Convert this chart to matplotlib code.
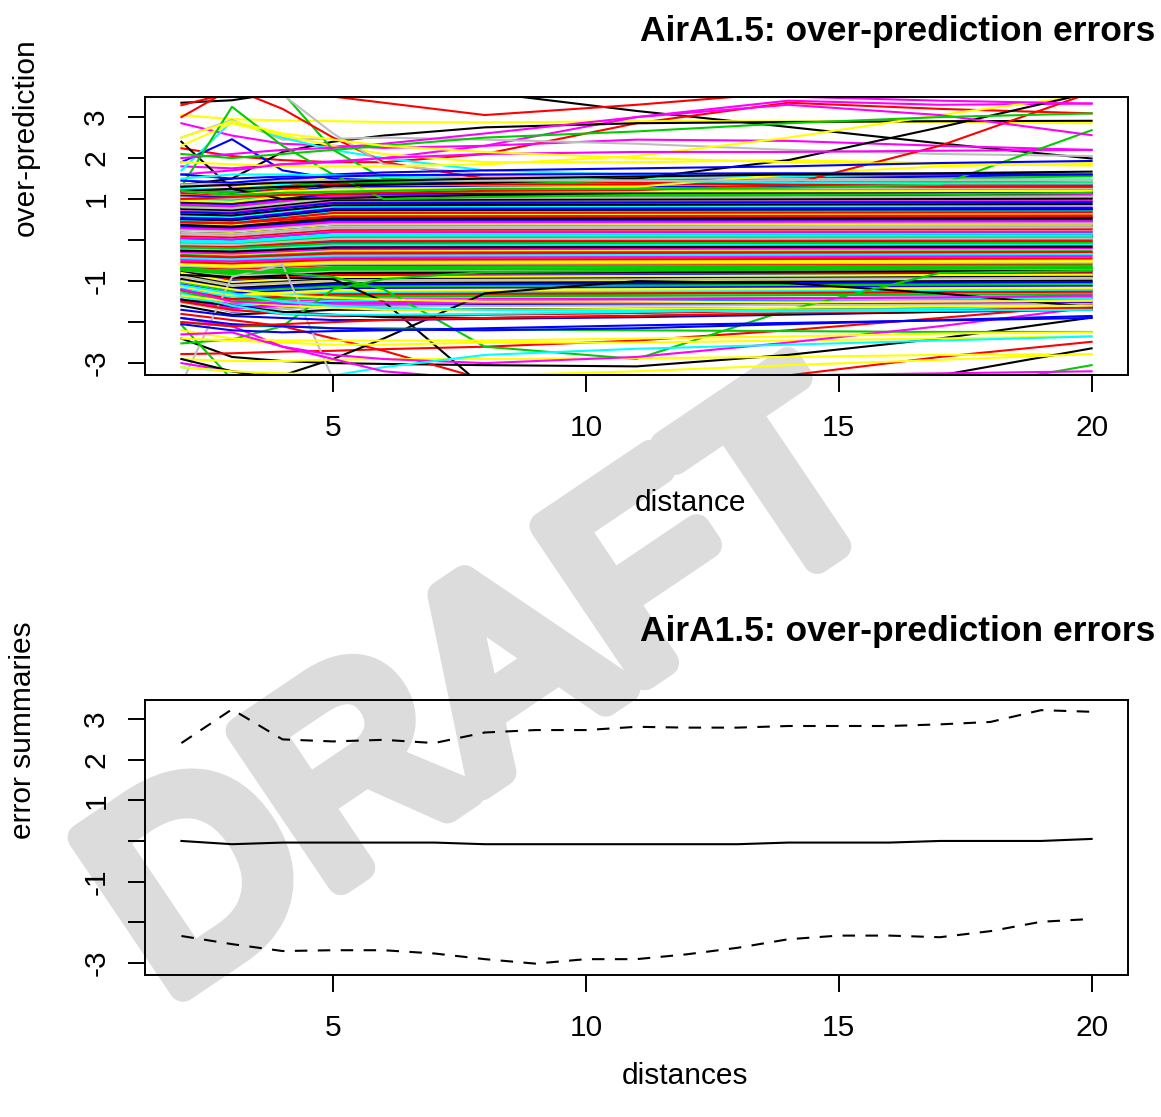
import matplotlib
matplotlib.use('Agg')
import matplotlib.pyplot as plt
import matplotlib.patheffects as pe

plt.rcParams['font.family'] = ['Liberation Sans', 'DejaVu Sans']

# ---------------- data ----------------
title = "AirA1.5: over-prediction errors"
distances = list(range(2, 21))

# summaries (bottom panel), one value per distance 2..20
summary_median = [0.00, -0.08, -0.04, -0.04, -0.04, -0.04, -0.08, -0.08, -0.08, -0.08,
                  -0.08, -0.08, -0.04, -0.04, -0.04, 0.00, 0.00, 0.00, 0.05]
summary_upper = [2.41, 3.24, 2.50, 2.45, 2.49, 2.41, 2.67, 2.73, 2.73, 2.81,
                 2.79, 2.79, 2.83, 2.83, 2.83, 2.87, 2.93, 3.22, 3.18]
summary_lower = [-2.34, -2.54, -2.71, -2.69, -2.69, -2.77, -2.91, -3.02, -2.91, -2.91,
                 -2.79, -2.63, -2.42, -2.33, -2.33, -2.37, -2.22, -1.99, -1.92]

# dense core of error curves: values at distances 2, 3, 5 and 20
core_d = [2, 3, 5, 20]
core_at2 = [0.27, -0.66, 0.83, -0.02, -1.10, 0.56, -0.32, 0.73, 0.16, -0.80,
            0.45, -0.16, 0.98, -0.50, 0.07, -0.92, 0.49, -0.08, -0.72, 0.90,
            0.35, -0.24, 0.66, -1.25, 0.20, -0.40, 1.06, 0.03, -0.85, 0.43,
            -0.58, -0.12, 0.78, -0.28, 0.30, -1.45, 0.60, -0.20, 0.12, -0.74,
            0.94, 0.40, -0.36, -0.05, -1.02, 0.70, 0.23, -0.63, 0.52, -0.14,
            1.02, -0.83, 0.00, -0.46, 0.40, -1.18, 0.76, 0.10, -0.69, 0.33,
            -0.22, 0.86, -0.90, 0.18, 0.63, -0.54, -0.06, -1.35, 0.46, -0.30,
            1.10, 0.25, -0.78, 0.43, -0.18, 0.68, -0.98, 0.05, -0.60, 0.80,
            0.37, -0.38, -1.22, 0.54, -0.04, -0.88, 0.96, 0.14, -0.26, 0.44,
            -0.73, 1.18, -0.44, 0.29, -1.12, -0.10,
            -0.85, 1.23, -1.02, 1.08, -1.18, -1.35, 1.30, -1.52, -0.95, 1.14,
            -1.28, -1.08, 1.26, -1.45, -0.80, 1.04, -1.60, -1.22, 1.20, -0.98,
            -1.38, 1.36, -1.12, -0.88]
core_at3 = [0.25, -0.70, 0.80, -0.04, -1.30, 0.53, -0.35, 0.70, 0.12, -0.95,
            0.43, -0.18, 0.95, -0.52, 0.04, -1.15, 0.46, -0.11, -0.80, 0.87,
            0.30, -0.26, 0.63, -1.55, 0.17, -0.44, 1.03, 0.00, -1.02, 0.40,
            -0.61, -0.14, 0.75, -0.30, 0.27, -1.75, 0.57, -0.22, 0.09, -0.86,
            0.91, 0.37, -0.40, -0.08, -1.25, 0.67, 0.20, -0.67, 0.49, -0.16,
            0.99, -1.00, -0.03, -0.49, 0.37, -1.42, 0.73, 0.07, -0.76, 0.29,
            -0.24, 0.83, -1.10, 0.15, 0.60, -0.57, -0.09, -1.65, 0.43, -0.33,
            1.07, 0.22, -0.92, 0.41, -0.20, 0.65, -1.20, 0.02, -0.64, 0.77,
            0.33, -0.42, -1.48, 0.51, -0.06, -1.06, 0.93, 0.11, -0.28, 0.41,
            -0.83, 1.15, -0.47, 0.26, -1.36, -0.12,
            -1.07, 1.20, -1.24, 1.05, -1.40, -1.57, 1.27, -1.74, -1.17, 1.11,
            -1.50, -1.30, 1.23, -1.67, -1.02, 1.01, -1.82, -1.44, 1.17, -1.20,
            -1.60, 1.33, -1.34, -1.10]
core_at5 = [0.42, -0.61, 1.05, 0.13, -1.22, 0.78, -0.25, 0.95, 0.31, -0.83,
            0.60, -0.05, 1.20, -0.44, 0.22, -1.05, 0.71, 0.05, -0.70, 1.12,
            0.50, -0.15, 0.88, -1.40, 0.35, -0.35, 1.28, 0.18, -0.92, 0.65,
            -0.52, 0.02, 1.00, -0.20, 0.45, -1.60, 0.82, -0.10, 0.27, -0.75,
            1.16, 0.55, -0.30, 0.09, -1.15, 0.92, 0.38, -0.58, 0.74, -0.02,
            1.24, -0.88, 0.15, -0.40, 0.62, -1.30, 0.98, 0.25, -0.66, 0.48,
            -0.12, 1.08, -1.00, 0.33, 0.85, -0.48, 0.07, -1.50, 0.68, -0.22,
            1.32, 0.40, -0.80, 0.58, -0.08, 0.90, -1.10, 0.20, -0.55, 1.02,
            0.52, -0.32, -1.35, 0.76, 0.11, -0.96, 1.18, 0.29, -0.18, 0.66,
            -0.72, 1.40, -0.38, 0.44, -1.25, 0.03,
            -0.95, 1.45, -1.12, 1.30, -1.28, -1.45, 1.52, -1.62, -1.05, 1.36,
            -1.38, -1.18, 1.48, -1.55, -0.90, 1.26, -1.70, -1.32, 1.42, -1.08,
            -1.48, 1.58, -1.22, -0.98]
core_at20 = [0.45, -0.58, 1.10, 0.12, -1.12, 0.80, -0.22, 0.98, 0.33, -0.78,
             0.62, -0.04, 1.22, -0.40, 0.24, -0.98, 0.73, 0.06, -0.66, 1.15,
             0.52, -0.13, 0.91, -1.30, 0.36, -0.31, 1.25, 0.19, -0.86, 0.67,
             -0.49, 0.03, 1.04, -0.18, 0.47, -1.52, 0.85, -0.08, 0.29, -0.71,
             1.19, 0.57, -0.27, 0.10, -1.07, 0.95, 0.40, -0.55, 0.76, 0.00,
             1.23, -0.82, 0.16, -0.36, 0.64, -1.20, 1.01, 0.27, -0.62, 0.50,
             -0.10, 1.12, -0.94, 0.35, 0.88, -0.45, 0.08, -1.42, 0.70, -0.20,
             1.28, 0.42, -0.75, 0.60, -0.06, 0.93, -1.02, 0.21, -0.52, 1.06,
             0.54, -0.29, -1.25, 0.78, 0.11, -0.90, 1.20, 0.31, -0.16, 0.68,
             -0.68, 1.35, -0.34, 0.46, -1.15, 0.04,
             -0.89, 1.45, -1.06, 1.30, -1.22, -1.39, 1.52, -1.56, -0.99, 1.36,
             -1.32, -1.12, 1.48, -1.49, -0.84, 1.26, -1.64, -1.26, 1.42, -1.02,
             -1.42, 1.58, -1.16, -0.92]

# outlying error curves: values at key distances
key_d = [2, 3, 4, 5, 6, 8, 11, 14, 17, 20]
outer_curves = [
    [3.35, 3.41, 3.6, 3.75, 3.8, 3.6, 3.15, 2.76, 2.36, 1.99],
    [3.8, 3.75, 3.7, 3.5, 3.35, 3.05, 3.3, 3.6, 3.7, 3.8],
    [2.24, 2.05, 1.95, 1.9, 1.9, 2.1, 2.85, 3.35, 3.2, 3.09],
    [3.05, 2.95, 2.92, 2.9, 2.88, 2.87, 2.9, 2.9, 2.88, 2.85],
    [2.85, 2.55, 2.35, 2.3, 2.25, 2.3, 2.45, 2.42, 2.3, 2.2],
    [1.8, 1.75, 1.85, 1.9, 2.0, 2.3, 3.0, 3.4, 3.3, 3.33],
    [1.34, 1.5, 2.15, 2.4, 2.55, 2.75, 2.85, 2.88, 2.9, 2.91],
    [2.4, 1.25, 1.0, 1.02, 1.05, 1.1, 1.1, 1.1, 1.12, 1.15],
    [2.5, 2.93, 2.45, 2.47, 2.5, 2.45, 2.35, 2.2, 2.1, 2.05],
    [1.7, 2.9, 2.5, 2.2, 2.0, 1.7, 1.6, 1.55, 1.5, 1.45],
    [2.3, 2.85, 2.55, 2.3, 2.1, 1.9, 1.9, 1.95, 1.88, 1.85],
    [1.9, 2.46, 1.7, 1.5, 1.45, 1.4, 1.45, 1.5, 1.55, 1.6],
    [1.3, 3.25, 2.3, 1.6, 1.0, 1.05, 1.1, 1.1, 1.12, 1.15],
    [3.8, 3.9, 3.6, 2.2, 1.5, 1.4, 1.4, 1.45, 1.5, 1.56],
    [3.0, 3.7, 3.2, 2.5, 1.9, 1.5, 1.4, 1.35, 1.3, 1.3],
    [3.8, 3.8, 3.55, 2.6, 1.85, 1.6, 1.55, 1.5, 1.48, 1.46],
    [1.9, 1.85, 1.8, 1.8, 1.8, 1.85, 2.05, 2.5, 3.05, 3.55],
    [1.2, 1.1, 1.2, 1.22, 1.25, 1.28, 1.3, 1.6, 1.8, 1.88],
    [1.2, 1.25, 1.3, 1.32, 1.35, 1.4, 1.5, 1.95, 2.75, 3.6],
    [1.0, 1.05, 1.1, 1.12, 1.15, 1.2, 1.22, 1.35, 2.3, 3.6],
    [1.2, 1.1, 1.15, 1.18, 1.2, 1.25, 1.25, 1.28, 1.35, 2.68],
    [2.0, 2.1, 2.2, 2.25, 2.35, 2.6, 3.0, 3.3, 3.05, 2.56],
    [2.1, 2.0, 2.1, 2.2, 2.3, 2.5, 2.65, 2.85, 3.0, 3.09],
    [1.6, 1.7, 1.85, 1.92, 2.0, 2.1, 2.15, 2.15, 2.18, 2.2],
    [2.5, 2.9, 2.6, 2.45, 2.3, 2.15, 2.0, 1.9, 1.85, 1.82],
    [1.6, 1.5, 1.55, 1.6, 1.65, 1.7, 1.75, 1.8, 1.88, 1.93],
    [1.5, 1.6, 1.6, 1.58, 1.55, 1.5, 1.45, 1.4, 1.38, 1.38],
    [1.35, 1.4, 1.45, 1.45, 1.45, 1.45, 1.45, 1.46, 1.46, 1.46],
    [3.8, 3.8, 3.75, 3.7, 3.6, 3.55, 3.55, 3.5, 3.4, 3.33],
    [1.45, 1.4, 1.5, 1.55, 1.58, 1.6, 1.62, 1.63, 1.62, 1.6],
    [1.3, 1.35, 1.4, 1.42, 1.45, 1.5, 1.55, 1.6, 1.63, 1.67],
    [3.29, 3.6, 3.8, 3.8, 3.8, 3.8, 3.8, 3.8, 3.8, 3.8],
    [-2.4, -2.85, -2.95, -3.0, -3.02, -3.05, -3.08, -2.8, -2.4, -1.89],
    [-2.78, -2.76, -2.72, -2.7, -2.66, -2.6, -2.45, -2.2, -1.9, -1.58],
    [-1.8, -1.95, -2.1, -2.4, -2.7, -3.4, -3.45, -3.3, -2.85, -2.48],
    [-0.85, -0.9, -0.92, -0.95, -1.5, -3.6, -3.6, -3.6, -3.6, -3.6],
    [-3.6, -3.5, -3.3, -2.9, -2.4, -1.3, -1.0, -1.05, -1.3, -1.63],
    [-3.5, -0.9, -0.6, -3.4, -3.6, -3.6, -3.6, -3.6, -3.6, -3.6],
    [-2.52, -2.42, -2.1, -1.2, -0.95, -0.78, -0.75, -0.72, -0.7, -0.68],
    [-2.07, -3.4, -3.6, -3.6, -3.6, -3.6, -3.6, -3.6, -3.6, -3.6],
    [-0.7, -0.75, -0.8, -0.9, -1.2, -2.6, -2.9, -1.7, -0.8, -0.75],
    [-2.0, -2.1, -2.1, -2.15, -2.15, -2.18, -2.2, -2.22, -2.24, -2.24],
    [-2.4, -2.45, -2.5, -2.55, -2.55, -2.5, -2.5, -2.45, -2.4, -2.34],
    [-2.9, -2.95, -2.95, -2.92, -2.9, -2.9, -2.88, -2.85, -2.8, -2.78],
    [-3.6, -3.6, -3.6, -3.6, -3.6, -3.6, -3.6, -3.6, -3.3, -2.64],
    [-3.7, -3.7, -3.7, -3.7, -3.7, -3.7, -3.7, -3.7, -3.7, -3.05],
    [-1.9, -2.1, -2.6, -2.8, -2.9, -3.0, -2.85, -2.5, -2.1, -1.64],
    [-3.0, -3.2, -3.3, -3.32, -3.35, -3.35, -3.3, -3.3, -3.25, -3.2],
    [-3.1, -3.2, -3.35, -3.3, -3.1, -2.8, -2.65, -2.55, -2.45, -2.35],
    [-2.2, -2.4, -2.45, -2.45, -2.45, -2.45, -2.4, -2.35, -2.28, -2.25],
    [-1.9, -2.05, -2.1, -2.15, -2.18, -2.2, -2.15, -2.05, -1.95, -1.85],
    [-1.7, -1.85, -1.9, -1.95, -1.95, -1.92, -1.88, -1.82, -1.75, -1.7],
    [-1.5, -1.7, -1.8, -1.85, -1.85, -1.82, -1.78, -1.72, -1.66, -1.6],
    [-1.45, -1.6, -1.75, -1.82, -1.88, -1.9, -1.85, -1.8, -1.75, -1.66],
    [-1.3, -1.6, -1.8, -1.82, -1.82, -1.8, -1.75, -1.7, -1.68, -1.6],
    [-1.35, -1.5, -1.6, -1.65, -1.7, -1.7, -1.68, -1.65, -1.62, -1.6],
    [-1.2, -1.5, -1.55, -1.55, -1.52, -1.48, -1.45, -1.42, -1.4, -1.35],
    [-2.9, -3.2, -3.4, -3.45, -3.5, -3.5, -3.5, -3.45, -3.4, -3.35],
    [-3.1, -3.2, -3.25, -3.28, -3.3, -3.3, -3.2, -3.05, -2.92, -2.78],
    [-2.0, -2.1, -2.05, -2.0, -1.95, -1.9, -1.85, -1.78, -1.72, -1.65],
    [-2.05, -2.2, -2.25, -2.22, -2.2, -2.15, -2.08, -2.02, -1.96, -1.9],
    [-1.1, -1.3, -1.5, -1.6, -1.65, -1.7, -1.72, -1.74, -1.72, -1.7],
    [-1.0, -1.2, -1.35, -1.4, -1.45, -1.5, -1.5, -1.52, -1.5, -1.48],
    [-2.3, -2.25, -2.6, -2.9, -3.2, -3.4, -3.5, -3.5, -3.5, -3.5],
]

# ---------------- styles ----------------
R_PALETTE = ['black', '#FF0000', '#00CD00', '#0000FF', '#00FFFF', '#FF00FF', '#FFFF00', '#BEBEBE']
outer_colors = [
    'black', '#FF0000', '#FF0000', '#FFFF00', '#FF00FF', '#FF00FF', 'black', 'black',
    '#BEBEBE', '#00FFFF', '#FFFF00', '#0000FF', '#00CD00', '#00CD00', '#FF0000', '#BEBEBE',
    '#FFFF00', '#FFFF00', 'black', '#FF0000', '#00CD00', '#FF00FF', '#00CD00', '#FF00FF',
    '#FFFF00', '#0000FF', '#00FFFF', '#BEBEBE', '#FF00FF', '#0000FF', 'black', '#FF0000',
    'black', '#FF0000', '#FF0000', 'black', 'black', '#BEBEBE', '#00CD00', '#00CD00',
    '#00CD00', '#00CD00', '#FFFF00', '#FFFF00', 'black', '#00CD00', '#FF00FF', '#FF00FF',
    '#00FFFF', '#FFFF00', '#0000FF', '#0000FF', '#FF0000', 'black', '#00FFFF', '#FFFF00',
    '#FF00FF', 'black', '#FFFF00', '#FF0000', '#0000FF', '#00FFFF', '#FFFF00', '#FF00FF',
]

W, H, DPI = 1161, 1117, 100
fig = plt.figure(figsize=(W / DPI, H / DPI), dpi=DPI, facecolor='white')

LW = 1.5
FS = 21.5
WM_GRAY = '#dcdcdc'

def box(left, top, right, bottom):
    return [left / W, 1 - bottom / H, (right - left) / W, (bottom - top) / H]

def style_axes(ax, ylim):
    ax.set_facecolor('none')
    ax.set_xlim(1.28, 20.72)
    ax.set_ylim(*ylim)
    ax.set_xticks([5, 10, 15, 20])
    ax.set_xticklabels(['5', '10', '15', '20'], fontsize=FS)
    ax.set_yticks([-3, -2, -1, 0, 1, 2, 3])
    ax.set_yticklabels(['-3', '', '-1', '', '1', '2', '3'], fontsize=FS,
                       rotation=90, va='center')
    for s in ax.spines.values():
        s.set_linewidth(1.4)
    ax.tick_params(axis='both', direction='out', length=12, width=1.4)
    ax.tick_params(axis='y', pad=13)
    ax.tick_params(axis='x', pad=16)

# watermark (behind the panels)
fig.text(165 / W, 1 - 1000 / H, 'DRAFT', rotation=34, rotation_mode='anchor',
         fontsize=190, fontweight='normal', color=WM_GRAY,
         ha='left', va='baseline', zorder=-5,
         path_effects=[pe.withStroke(linewidth=20, foreground=WM_GRAY,
                                     joinstyle='round', capstyle='round')])

# ---- top panel ----
ax1 = fig.add_axes(box(145, 97, 1128, 375))
ax1.set_zorder(1)
for i in range(len(core_at5)):
    ax1.plot(core_d, [core_at2[i], core_at3[i], core_at5[i], core_at20[i]],
             color=R_PALETTE[i % 8], lw=LW, solid_joinstyle='round')
for vals, c in zip(outer_curves, outer_colors):
    ax1.plot(key_d, vals, color=c, lw=LW, solid_joinstyle='round')
style_axes(ax1, (-3.29, 3.49))

# ---- bottom panel ----
ax2 = fig.add_axes(box(145, 700, 1128, 975))
ax2.set_zorder(1)
ax2.plot(distances, summary_median, color='black', lw=LW)
ax2.plot(distances, summary_upper, color='black', lw=LW, dashes=(6, 5))
ax2.plot(distances, summary_lower, color='black', lw=LW, dashes=(6, 5))
style_axes(ax2, (-3.3, 3.47))

# titles and labels
fig.text(1155 / W, 1 - 32 / H, title, ha='right', va='center',
         fontsize=25.5, fontweight='bold')
fig.text(1155 / W, 1 - 631 / H, title, ha='right', va='center',
         fontsize=25.5, fontweight='bold')
fig.text(26 / W, 1 - 137 / H, 'over-prediction', rotation=90,
         ha='center', va='center', fontsize=FS)
fig.text(23 / W, 1 - 730 / H, 'error summaries', rotation=90,
         ha='center', va='center', fontsize=FS)
fig.text(690 / W, 1 - 503 / H, 'distance', ha='center', va='center', fontsize=FS)
fig.text(685 / W, 1 - 1076 / H, 'distances', ha='center', va='center', fontsize=FS)

fig.savefig('out.png', dpi=DPI, facecolor='white')
